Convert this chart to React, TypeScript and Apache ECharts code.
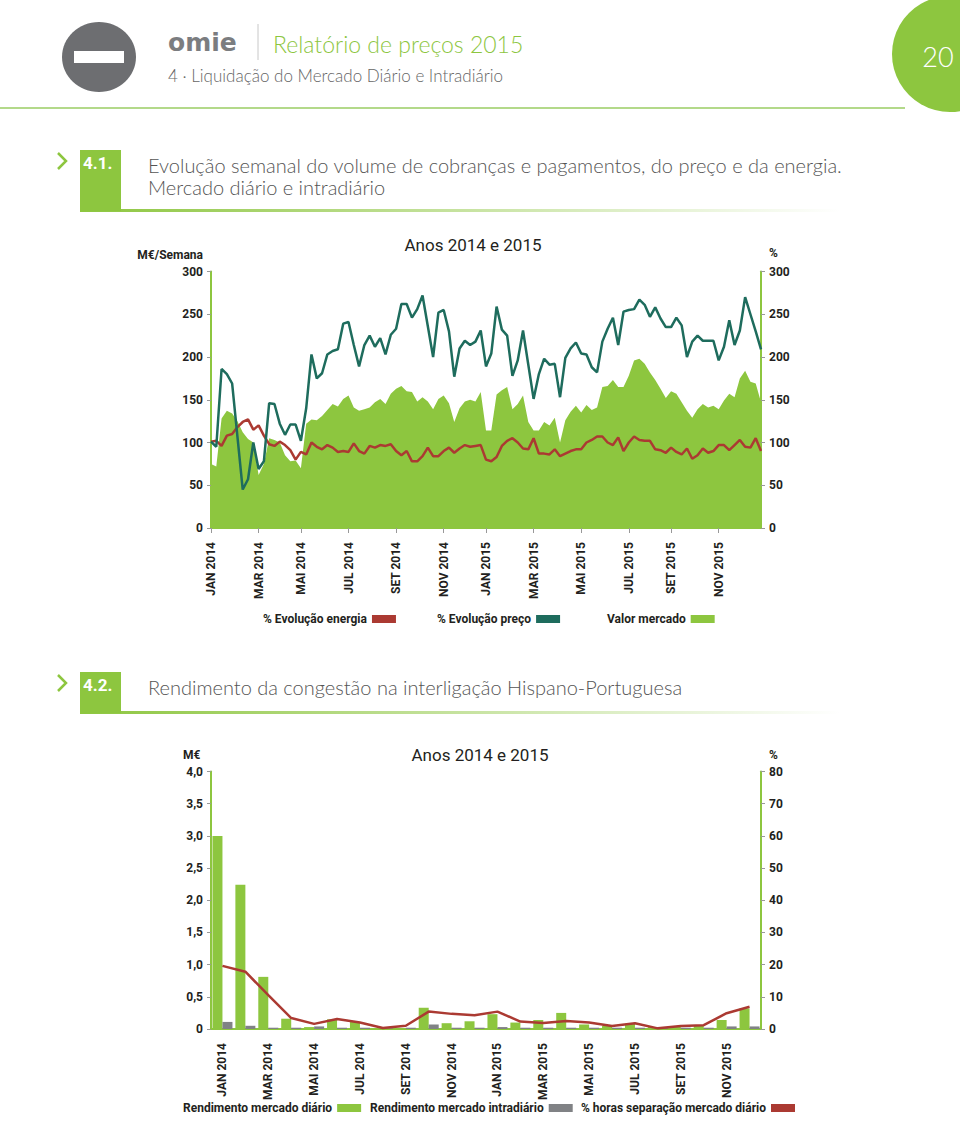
import React, { useEffect, useRef } from 'react';
import * as echarts from 'echarts';

// ---------- Chart 4.1 data (weekly) ----------
const weeklyTickLabels = ['JAN 2014', 'MAR 2014', 'MAI 2014', 'JUL 2014', 'SET 2014', 'NOV 2014', 'JAN 2015', 'MAR 2015', 'MAI 2015', 'JUL 2015', 'SET 2015', 'NOV 2015'];
const weeklyTickIndex = [0, 9, 17, 26, 35, 44, 52, 61, 70, 79, 87, 96];

const valorMercado = [
  75, 72, 128, 137, 134, 125, 112, 104, 100, 62,
  75, 105, 103, 100, 85, 78, 79, 70, 122, 127,
  126, 131, 138, 145, 142, 151, 155, 141, 137, 139,
  141, 147, 151, 145, 157, 163, 166, 160, 159, 148,
  153, 148, 139, 151, 155, 146, 124, 140, 148, 150,
  148, 159, 114, 114, 156, 161, 165, 139, 145, 155,
  124, 114, 114, 124, 120, 129, 100, 126, 136, 143,
  135, 144, 138, 141, 165, 166, 173, 165, 165, 178,
  196, 198, 192, 182, 173, 163, 152, 160, 157, 147,
  137, 129, 139, 145, 141, 143, 139, 149, 157, 153,
  175, 184, 171, 169, 147,
];

const evolucaoPreco = [
  101, 95, 186, 180, 169, 107, 45, 57, 100, 69,
  78, 146, 145, 122, 109, 121, 121, 102, 140, 203,
  175, 181, 203, 207, 209, 239, 241, 214, 189, 214,
  225, 212, 222, 203, 226, 233, 262, 262, 246, 256,
  272, 236, 200, 252, 255, 230, 177, 210, 219, 214,
  218, 231, 189, 204, 259, 232, 225, 178, 196, 231,
  191, 151, 180, 198, 191, 192, 153, 199, 210, 217,
  204, 203, 188, 182, 218, 233, 246, 214, 253, 255,
  256, 267, 261, 247, 258, 245, 235, 235, 246, 237,
  200, 218, 225, 219, 219, 219, 196, 212, 243, 214,
  231, 270, 250, 230, 209,
];

const evolucaoEnergia = [
  101, 102, 96, 108, 110, 118, 124, 127, 115, 120,
  108, 98, 96, 101, 97, 91, 80, 89, 86, 100,
  95, 92, 97, 94, 89, 90, 89, 99, 90, 87,
  96, 94, 97, 96, 98, 90, 85, 90, 78, 78,
  84, 94, 84, 84, 90, 94, 88, 93, 97, 95,
  96, 97, 80, 78, 83, 96, 102, 105, 100, 93,
  92, 105, 87, 87, 86, 92, 84, 87, 90, 92,
  92, 100, 103, 107, 107, 100, 97, 106, 90, 100,
  107, 103, 102, 102, 92, 91, 88, 94, 89, 86,
  93, 81, 85, 93, 88, 90, 97, 97, 91, 97,
  103, 95, 94, 105, 90,
];

// ---------- Chart 4.2 data (monthly) ----------
const months = [
  'JAN 2014', 'FEV 2014', 'MAR 2014', 'ABR 2014', 'MAI 2014', 'JUN 2014', 'JUL 2014', 'AGO 2014', 'SET 2014', 'OUT 2014', 'NOV 2014', 'DEZ 2014',
  'JAN 2015', 'FEV 2015', 'MAR 2015', 'ABR 2015', 'MAI 2015', 'JUN 2015', 'JUL 2015', 'AGO 2015', 'SET 2015', 'OUT 2015', 'NOV 2015', 'DEZ 2015',
];
const rendimentoDiario = [3.0, 2.24, 0.81, 0.16, 0.03, 0.15, 0.11, 0.01, 0.01, 0.33, 0.09, 0.12, 0.23, 0.1, 0.14, 0.25, 0.07, 0.05, 0.08, 0.03, 0.04, 0.05, 0.14, 0.32];
const rendimentoIntradiario = [0.11, 0.05, 0.02, 0.02, 0.04, 0.02, 0.02, 0.01, 0.02, 0.07, 0.02, 0.02, 0.03, 0.02, 0.02, 0.02, 0.02, 0.02, 0.02, 0.02, 0.02, 0.02, 0.04, 0.04];
const horasSeparacao = [19.6, 17.8, 10.5, 3.4, 1.6, 3.1, 2.0, 0.3, 1.0, 5.4, 4.7, 4.3, 5.4, 2.3, 1.9, 2.5, 2.0, 0.9, 1.8, 0.2, 0.9, 1.2, 4.9, 6.9];

const GREEN = '#8dc63f';
const TEAL = '#1e6c5d';
const RED = '#ab3a32';
const GRAY = '#808285';
const NARROW = "Roboto, 'Open Sans', sans-serif";
const LIGHT = "Lato, 'Open Sans', sans-serif";
const TXT = '#231f20';

const weekCats = valorMercado.map((_, i) => String(i));
const weekLabelMap: Record<string, string> = {};
weeklyTickIndex.forEach((idx, k) => { weekLabelMap[String(idx)] = weeklyTickLabels[k]; });
const isWeekTick = (index: number) => weeklyTickIndex.indexOf(index) >= 0;

const axisText = { fontFamily: NARROW, fontWeight: 'bold' as const, fontSize: 12, color: TXT };

function sectionHeader(num: string, y: number, lines: string[]) {
  const h = lines.length === 1 ? 41 : 61;
  const els: any[] = [
    { type: 'polyline', shape: { points: [[58, y + 3], [66, y + 11], [58, y + 19]] }, style: { stroke: GREEN, lineWidth: 2.5, fill: 'none' } },
    { type: 'rect', shape: { x: 80, y: y, width: 41, height: h }, style: { fill: GREEN } },
    { type: 'text', x: 83, y: y + 13, style: { text: num, fill: '#fff', font: `bold 17px ${NARROW}`, textVerticalAlign: 'middle' } },
    {
      type: 'rect', shape: { x: 80, y: y + h - 2, width: 760, height: 3 },
      style: { fill: new echarts.graphic.LinearGradient(0, 0, 1, 0, [{ offset: 0, color: GREEN }, { offset: 1, color: 'rgba(141,198,63,0)' }]) },
    },
  ];
  lines.forEach((t, i) => {
    els.push({ type: 'text', x: 148, y: y + 15 + i * 22, style: { text: t, fill: '#555', font: `300 20px ${LIGHT}`, textVerticalAlign: 'middle' } });
  });
  return els;
}

function legendItem(name: string, left: number, top: number) {
  return {
    data: [name], left, top, padding: 0, align: 'right', icon: 'rect', itemWidth: 24, itemHeight: 8,
    textStyle: { fontFamily: NARROW, fontWeight: 'bold', fontSize: 12, color: TXT }, selectedMode: false,
  };
}

export default function App() {
  const ref = useRef<HTMLDivElement>(null);
  useEffect(() => {
    if (!ref.current) return;
    const chart = echarts.init(ref.current, null, { renderer: 'svg' });
    const option: any = {
      animation: false,
      backgroundColor: '#fff',
      graphic: [
        // header
        { type: 'ellipse', shape: { cx: 99, cy: 57, rx: 37, ry: 35 }, style: { fill: '#6d6e71' } },
        { type: 'rect', shape: { x: 74, y: 51, width: 50, height: 12 }, style: { fill: '#fff' } },
        { type: 'text', x: 168, y: 42, style: { text: 'omie', fill: '#7b7d80', font: `bold 25px 'DejaVu Sans', sans-serif`, textVerticalAlign: 'middle' } },
        { type: 'line', shape: { x1: 258, y1: 24, x2: 258, y2: 60 }, style: { stroke: '#c8c8c8', lineWidth: 1 } },
        { type: 'text', x: 273, y: 44, style: { text: 'Relatório de preços 2015', fill: GREEN, font: `300 23px ${LIGHT}`, textVerticalAlign: 'middle' } },
        { type: 'text', x: 168, y: 75, style: { text: '4 · Liquidação do Mercado Diário e Intradiário', fill: '#666', font: `300 17px ${LIGHT}`, textVerticalAlign: 'middle' } },
        { type: 'line', shape: { x1: 0, y1: 108, x2: 905, y2: 108 }, style: { stroke: '#b3d98a', lineWidth: 2 } },
        { type: 'circle', shape: { cx: 950, cy: 54, r: 58 }, style: { fill: GREEN } },
        { type: 'text', x: 938, y: 56, style: { text: '20', fill: '#fff', font: `300 27px ${LIGHT}`, textAlign: 'center', textVerticalAlign: 'middle' } },
        ...sectionHeader('4.1.', 150, ['Evolução semanal do volume de cobranças e pagamentos, do preço e da energia.', 'Mercado diário e intradiário']),
        ...sectionHeader('4.2.', 672, ['Rendimento da congestão na interligação Hispano-Portuguesa']),
        // chart 1 titles
        { type: 'text', x: 473, y: 245, style: { text: 'Anos 2014 e 2015', fill: TXT, font: `17px ${NARROW}`, textAlign: 'center', textVerticalAlign: 'middle' } },
        { type: 'text', x: 203, y: 255, style: { text: 'M€/Semana', fill: TXT, font: `bold 12px ${NARROW}`, textAlign: 'right', textVerticalAlign: 'middle' } },
        { type: 'text', x: 769, y: 253, style: { text: '%', fill: TXT, font: `bold 12px ${NARROW}`, textVerticalAlign: 'middle' } },
        // chart 2 titles
        { type: 'text', x: 480, y: 755, style: { text: 'Anos 2014 e 2015', fill: TXT, font: `17px ${NARROW}`, textAlign: 'center', textVerticalAlign: 'middle' } },
        { type: 'text', x: 183, y: 755, style: { text: 'M€', fill: TXT, font: `bold 12px ${NARROW}`, textVerticalAlign: 'middle' } },
        { type: 'text', x: 769, y: 755, style: { text: '%', fill: TXT, font: `bold 12px ${NARROW}`, textVerticalAlign: 'middle' } },
      ],
      legend: [
        legendItem('% Evolução energia', 263, 613),
        legendItem('% Evolução preço', 437, 613),
        legendItem('Valor mercado', 607, 613),
        legendItem('Rendimento mercado diário', 183, 1102),
        legendItem('Rendimento mercado intradiário', 370, 1102),
        legendItem('% horas separação mercado diário', 581, 1102),
      ],
      grid: [
        { left: 211, top: 271.5, width: 550, height: 256.5 },
        { left: 211, top: 771.5, width: 550, height: 257.5 },
      ],
      xAxis: [
        {
          type: 'category', gridIndex: 0, data: weekCats, boundaryGap: false,
          axisLine: { lineStyle: { color: GREEN, width: 2 } },
          axisTick: { interval: (i: number) => isWeekTick(i), length: 5, lineStyle: { color: '#999' } },
          axisLabel: { ...axisText, interval: (i: number) => isWeekTick(i), rotate: 90, margin: 14, formatter: (v: string) => weekLabelMap[v] || '' },
        },
        {
          type: 'category', gridIndex: 1, data: months, boundaryGap: true,
          axisLine: { lineStyle: { color: GREEN, width: 2 } },
          axisTick: { interval: 1, alignWithLabel: true, length: 5, lineStyle: { color: '#999' } },
          axisLabel: { ...axisText, interval: 1, rotate: 90, margin: 14 },
        },
      ],
      yAxis: [
        {
          type: 'value', gridIndex: 0, position: 'left', min: 0, max: 300, interval: 50,
          axisLine: { show: true, lineStyle: { color: GREEN, width: 2 } },
          axisTick: { show: true, length: 4, lineStyle: { color: '#999' } },
          splitLine: { show: false }, axisLabel: { ...axisText, margin: 8 },
        },
        {
          type: 'value', gridIndex: 0, position: 'right', min: 0, max: 300, interval: 50,
          axisLine: { show: true, lineStyle: { color: GREEN, width: 2 } },
          axisTick: { show: true, length: 4, lineStyle: { color: '#999' } },
          splitLine: { show: false }, axisLabel: { ...axisText, margin: 8 },
        },
        {
          type: 'value', gridIndex: 1, position: 'left', min: 0, max: 4, interval: 0.5,
          axisLine: { show: true, lineStyle: { color: GREEN, width: 2 } },
          axisTick: { show: true, length: 4, lineStyle: { color: '#999' } },
          splitLine: { show: false },
          axisLabel: { ...axisText, margin: 8, formatter: (v: number) => (v === 0 ? '0' : v.toFixed(1).replace('.', ',')) },
        },
        {
          type: 'value', gridIndex: 1, position: 'right', min: 0, max: 80, interval: 10,
          axisLine: { show: true, lineStyle: { color: GREEN, width: 2 } },
          axisTick: { show: true, length: 4, lineStyle: { color: '#999' } },
          splitLine: { show: false }, axisLabel: { ...axisText, margin: 8 },
        },
      ],
      series: [
        {
          name: 'Valor mercado', type: 'line', xAxisIndex: 0, yAxisIndex: 0, data: valorMercado,
          symbol: 'none', lineStyle: { width: 0, color: GREEN }, itemStyle: { color: GREEN },
          areaStyle: { color: GREEN, opacity: 1 },
        },
        {
          name: '% Evolução energia', type: 'line', xAxisIndex: 0, yAxisIndex: 1, data: evolucaoEnergia,
          symbol: 'none', lineStyle: { width: 2.5, color: RED }, itemStyle: { color: RED },
        },
        {
          name: '% Evolução preço', type: 'line', xAxisIndex: 0, yAxisIndex: 1, data: evolucaoPreco,
          symbol: 'none', lineStyle: { width: 2.5, color: TEAL }, itemStyle: { color: TEAL },
        },
        {
          name: 'Rendimento mercado diário', type: 'bar', xAxisIndex: 1, yAxisIndex: 2, data: rendimentoDiario,
          barWidth: 10, barGap: '0%', itemStyle: { color: GREEN },
        },
        {
          name: 'Rendimento mercado intradiário', type: 'bar', xAxisIndex: 1, yAxisIndex: 2, data: rendimentoIntradiario,
          barWidth: 10, barGap: '0%', itemStyle: { color: GRAY },
        },
        {
          name: '% horas separação mercado diário', type: 'line', xAxisIndex: 1, yAxisIndex: 3, data: horasSeparacao,
          symbol: 'none', lineStyle: { width: 2.5, color: RED }, itemStyle: { color: RED },
        },
      ],
    };
    chart.setOption(option);
    return () => chart.dispose();
  }, []);
  return <div ref={ref} style={{ position: 'absolute', left: 0, top: 0, width: 960, height: 1121 }} />;
}
